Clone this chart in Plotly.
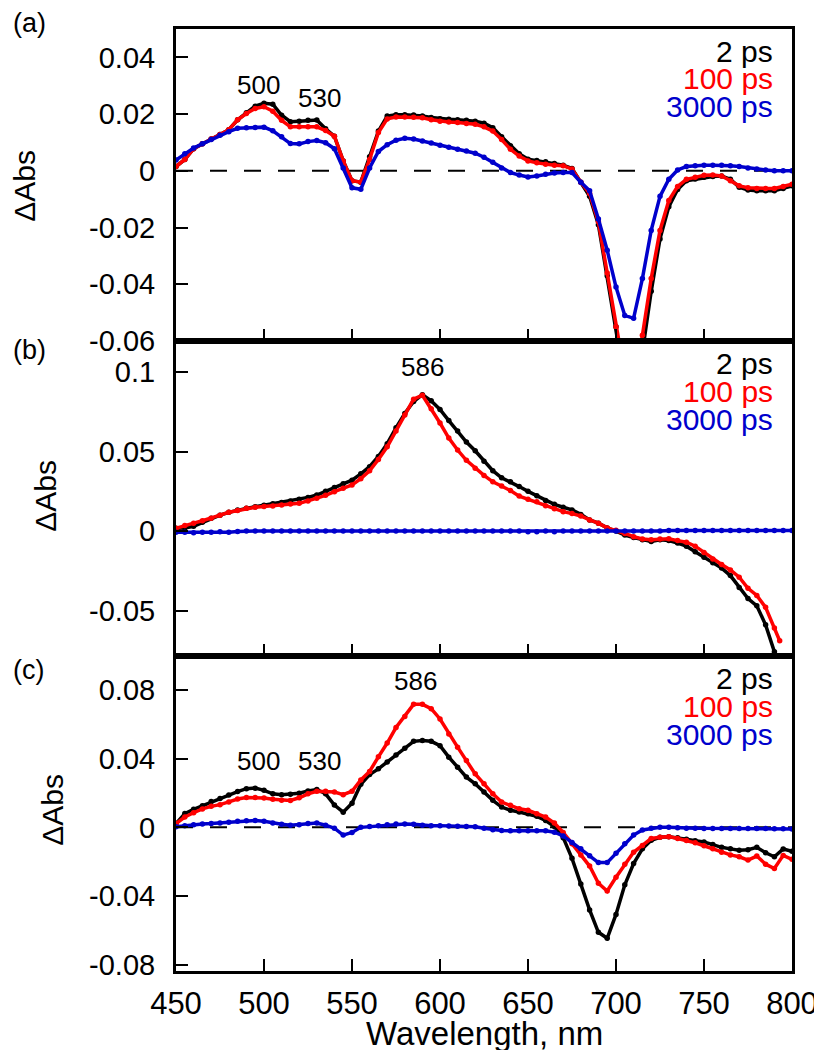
import plotly.graph_objects as go

# ---------------- data ----------------
wl = list(range(450, 805, 5))                 # 450..800 nm
wl_b = list(range(450, 795, 5)) + [793]       # panel (b) 2 ps / 100 ps end near 793 nm

series_names = ["2 ps", "100 ps", "3000 ps"]
series_colors = ["#000000", "#ff0000", "#0000cc"]

# Panel (a)
a_2ps = [0.0015, 0.004, 0.0078, 0.0095, 0.0112, 0.0128, 0.0145, 0.018, 0.0205, 0.0228,
         0.0238, 0.0235, 0.0196, 0.0173, 0.0175, 0.0178, 0.0179, 0.0148, 0.0122, 0.0035,
         -0.0035, -0.004, 0.005, 0.014, 0.0193, 0.0198, 0.0198, 0.0197, 0.0193, 0.0188,
         0.0184, 0.0182, 0.018, 0.0178, 0.0175, 0.0168, 0.0152, 0.012, 0.0088, 0.006,
         0.0041, 0.0036, 0.0032, 0.0026, 0.002, 0.0008, -0.004, -0.009, -0.019, -0.037,
         -0.055, -0.075, -0.08, -0.064, -0.0425, -0.024, -0.0127, -0.0066, -0.0035, -0.0029,
         -0.0023, -0.002, -0.0018, -0.003, -0.0058, -0.0068, -0.007, -0.007, -0.007, -0.0062,
         -0.0053]
a_100ps = [0.0015, 0.004, 0.0078, 0.0095, 0.0112, 0.0128, 0.0145, 0.018, 0.0202, 0.022,
           0.0226, 0.021, 0.0178, 0.0155, 0.0155, 0.0155, 0.0155, 0.0142, 0.0122, 0.0035,
           -0.0035, -0.004, 0.004, 0.0135, 0.0183, 0.019, 0.019, 0.0189, 0.0187, 0.018,
           0.0175, 0.0172, 0.017, 0.0167, 0.0164, 0.0155, 0.014, 0.011, 0.0076, 0.0052,
           0.0035, 0.0028, 0.0023, 0.002, 0.0018, 0.0006, -0.004, -0.008, -0.018, -0.036,
           -0.055, -0.072, -0.078, -0.058, -0.038, -0.021, -0.0105, -0.0055, -0.003, -0.0023,
           -0.0016, -0.0015, -0.0018, -0.0035, -0.0053, -0.006, -0.0062, -0.0062, -0.0062, -0.0055,
           -0.0047]
a_3000ps = [0.0038, 0.006, 0.008, 0.0095, 0.011, 0.0125, 0.0138, 0.015, 0.0152, 0.0153,
            0.0154, 0.0141, 0.012, 0.0096, 0.0095, 0.0103, 0.0107, 0.0099, 0.0078, 0.001,
            -0.006, -0.0065, 0.001, 0.0068, 0.0092, 0.0108, 0.0115, 0.0112, 0.0105, 0.0098,
            0.009, 0.0083, 0.0076, 0.007, 0.0062, 0.0048, 0.003, 0.001, -0.0006, -0.0015,
            -0.0022, -0.0018, -0.0012, -0.0008, -0.0006, -0.0006, -0.004, -0.007, -0.017, -0.028,
            -0.041, -0.051, -0.052, -0.038, -0.021, -0.009, -0.003, 0.0003, 0.0015, 0.0018,
            0.002, 0.002, 0.002, 0.0018, 0.0015, 0.001, 0.0006, 0.0003, 0.0, 0.0,
            0.0]

# Panel (b)
b_2ps = [0.0017, 0.002, 0.003, 0.0055, 0.008, 0.010, 0.0118, 0.0132, 0.0143, 0.0153,
         0.0162, 0.0172, 0.018, 0.019, 0.020, 0.0212, 0.0227, 0.025, 0.0274, 0.0298,
         0.032, 0.036, 0.0405, 0.047, 0.055, 0.065, 0.074, 0.0815, 0.0858, 0.082,
         0.0765, 0.0695, 0.063, 0.056, 0.0505, 0.044, 0.038, 0.0335, 0.031, 0.028,
         0.025, 0.0223, 0.0193, 0.0168, 0.015, 0.0133, 0.0105, 0.007, 0.005, 0.002,
         0.0, -0.0025, -0.004, -0.0055, -0.0065, -0.0055, -0.006, -0.0075, -0.0095, -0.013,
         -0.0165, -0.020, -0.0233, -0.028, -0.0355, -0.0425, -0.047, -0.059, -0.076, -0.082]
b_100ps = [0.0017, 0.0035, 0.005, 0.0065, 0.008, 0.010, 0.0118, 0.013, 0.0143, 0.015,
           0.0154, 0.0158, 0.0164, 0.017, 0.0175, 0.019, 0.0206, 0.0225, 0.0248, 0.027,
           0.029, 0.033, 0.038, 0.045, 0.053, 0.063, 0.073, 0.083, 0.0855, 0.077,
           0.068, 0.0585, 0.051, 0.0445, 0.0395, 0.035, 0.031, 0.0284, 0.0255, 0.022,
           0.020, 0.0185, 0.016, 0.014, 0.0122, 0.011, 0.0095, 0.007, 0.005, 0.002,
           0.0005, -0.0015, -0.0035, -0.005, -0.0055, -0.005, -0.0048, -0.006, -0.007, -0.0095,
           -0.0135, -0.0175, -0.021, -0.0245, -0.029, -0.036, -0.0405, -0.048, -0.061, -0.069]
b_3000ps = [-0.0008, -0.0008, -0.001, -0.0008, -0.0008, -0.0005, -0.0008, -0.0003, 0.0, 0.0,
            0.0, 0.0, 0.0, 0.0, 0.0, 0.0, 0.0, 0.0, 0.0, 0.0,
            0.0, 0.0, 0.0, 0.0, 0.0, 0.0, 0.0, 0.0, 0.0, 0.0,
            0.0, 0.0, 0.0, 0.0, 0.0, 0.0, 0.0, 0.0, 0.0, 0.0,
            -0.0005, -0.0005, 0.0, -0.0005, 0.0, 0.0, 0.0, 0.0, 0.0, 0.0,
            0.0, 0.0, 0.0, 0.0, 0.0, 0.0, 0.0003, 0.0003, 0.0003, 0.0003,
            0.0003, 0.0003, 0.0003, 0.0003, 0.0003, 0.0003, 0.0003, 0.0003, 0.0003, 0.0003,
            0.0003]

# Panel (c)
c_2ps = [0.0022, 0.008, 0.0105, 0.0126, 0.015, 0.0168, 0.0188, 0.0208, 0.0225, 0.0228,
         0.0215, 0.0195, 0.019, 0.0192, 0.0198, 0.0212, 0.022, 0.0195, 0.013, 0.0088,
         0.014, 0.025, 0.0307, 0.034, 0.038, 0.042, 0.046, 0.050, 0.0505, 0.050,
         0.0475, 0.0408, 0.035, 0.0292, 0.0253, 0.0205, 0.0157, 0.0118, 0.0099, 0.0089,
         0.0079, 0.0064, 0.004, 0.0005, -0.006, -0.018, -0.033, -0.048, -0.061, -0.0645,
         -0.0506, -0.0334, -0.021, -0.0125, -0.0075, -0.0058, -0.0055, -0.006, -0.0069, -0.0078,
         -0.0085, -0.010, -0.0116, -0.0125, -0.0133, -0.013, -0.0116, -0.0148, -0.0171, -0.0126,
         -0.0139]
c_100ps = [0.0022, 0.006, 0.0085, 0.0107, 0.0122, 0.0132, 0.0148, 0.0165, 0.0173, 0.0173,
           0.017, 0.0163, 0.0158, 0.0156, 0.0172, 0.0195, 0.021, 0.021, 0.0205, 0.019,
           0.021, 0.0275, 0.0325, 0.041, 0.049, 0.058, 0.0645, 0.0715, 0.0715, 0.069,
           0.063, 0.0543, 0.0466, 0.0388, 0.0311, 0.0253, 0.0195, 0.0147, 0.0128, 0.0108,
           0.0099, 0.0079, 0.006, 0.0025, -0.003, -0.0095, -0.016, -0.0225, -0.0325, -0.037,
           -0.029, -0.0215, -0.0145, -0.0105, -0.0065, -0.0058, -0.0054, -0.0065, -0.0076, -0.009,
           -0.0107, -0.0125, -0.0144, -0.016, -0.0171, -0.019, -0.0167, -0.0214, -0.0239, -0.0163,
           -0.0186]
c_3000ps = [0.0003, 0.001, 0.0015, 0.002, 0.0022, 0.0025, 0.003, 0.0035, 0.0038, 0.004,
            0.0035, 0.0025, 0.0018, 0.0012, 0.0015, 0.0022, 0.0025, 0.0012, -0.0005, -0.0045,
            -0.003, 0.0, 0.0005, 0.001, 0.0015, 0.002, 0.002, 0.0018, 0.0012, 0.001,
            0.001, 0.0008, 0.0006, 0.0005, 0.0003, -0.0005, -0.0014, -0.0018, -0.002, -0.002,
            -0.002, -0.002, -0.002, -0.0028, -0.005, -0.0088, -0.0125, -0.0165, -0.0205, -0.0205,
            -0.015, -0.0095, -0.0045, -0.0015, -0.0005, 0.0, 0.0, -0.0003, -0.0005, -0.0005,
            -0.0006, -0.0006, -0.0006, -0.0006, -0.0006, -0.0006, -0.0006, -0.0006, -0.0008, -0.0008,
            -0.001]

x_ticks = [450, 500, 550, 600, 650, 700, 750, 800]
x_ticktext = ["450", "500", "550", "600", "650", "700", "750", "800"]
ya_ticks = [0.04, 0.02, 0.0, -0.02, -0.04, -0.06]
ya_text = ["0.04", "0.02", "0", "-0.02", "-0.04", "-0.06"]
yb_ticks = [0.1, 0.05, 0.0, -0.05]
yb_text = ["0.1", "0.05", "0", "-0.05"]
yc_ticks = [0.08, 0.04, 0.0, -0.04, -0.08]
yc_text = ["0.08", "0.04", "0", "-0.04", "-0.08"]

peak_labels_a = [("500", 496.7, 0.821), ("530", 531.3, 0.779)]
peak_labels_b = [("586", 590.1, 0.917)]
peak_labels_c = [("500", 496.7, 0.666), ("530", 531.3, 0.666), ("586", 586.2, 0.921)]

# ---------------- figure ----------------
FONT = "Liberation Sans, Arial, Helvetica, sans-serif"
fig = go.Figure()

panels = [
    ("x", "y", [a_2ps, a_100ps, a_3000ps], [wl, wl, wl]),
    ("x2", "y2", [b_2ps, b_100ps, b_3000ps], [wl_b, wl_b, wl]),
    ("x3", "y3", [c_2ps, c_100ps, c_3000ps], [wl, wl, wl]),
]
for xa, ya, ys, xs in panels:
    for name, color, xv, yv in zip(series_names, series_colors, xs, ys):
        fig.add_trace(go.Scatter(
            x=xv, y=yv, xaxis=xa, yaxis=ya, name=name,
            mode="lines+markers",
            line=dict(color=color, width=3.5),
            marker=dict(color=color, size=5.5),
            showlegend=False, hoverinfo="skip"))

common_x = dict(range=[450, 800], showline=True, linewidth=3, linecolor="black",
                mirror=True, ticks="inside", ticklen=12, tickwidth=2, tickcolor="black",
                tickvals=x_ticks, ticktext=x_ticktext, showgrid=False, zeroline=False,
                domain=[0, 1])
common_y = dict(showline=True, linewidth=3, linecolor="black", mirror=True,
                ticks="inside", ticklen=12, tickwidth=2, tickcolor="black",
                showgrid=False, zeroline=False,
                tickfont=dict(family=FONT, size=29, color="black"),
                ticklabelstandoff=12)

d_ab = 0.6688
d_bc = 0.3344
# plot area at x 168-796, y 21-963
fig.update_layout(
    width=822, height=1050,
    margin=dict(l=168, r=26, t=21, b=87),
    paper_bgcolor="white", plot_bgcolor="white",
    font=dict(family=FONT, color="black"),
    xaxis=dict(common_x, anchor="y", showticklabels=False),
    xaxis2=dict(common_x, anchor="y2", showticklabels=False),
    xaxis3=dict(common_x, anchor="y3", showticklabels=True,
                tickfont=dict(family=FONT, size=31, color="black"),
                ticklabelstandoff=3),
    yaxis=dict(common_y, anchor="x", domain=[d_ab, 1], range=[-0.06, 0.05],
               tickvals=ya_ticks, ticktext=ya_text),
    yaxis2=dict(common_y, anchor="x2", domain=[d_bc, d_ab], range=[-0.0786, 0.1196],
                tickvals=yb_ticks, ticktext=yb_text),
    yaxis3=dict(common_y, anchor="x3", domain=[0, d_bc], range=[-0.0835, 0.0996],
                tickvals=yc_ticks, ticktext=yc_text),
    showlegend=False,
)

# dashed zero lines in (a) and (c)
for xr, yr in [("x", "y"), ("x3", "y3")]:
    fig.add_shape(type="line", xref=xr, yref=yr, x0=450, x1=800, y0=0, y1=0,
                  line=dict(color="black", width=2, dash="17px,17px"), layer="below")

ann = []
# legend-like text
for yr in ["y", "y2", "y3"]:
    for name, color, yy in zip(series_names, series_colors, [0.928, 0.84, 0.752]):
        ann.append(dict(text=name, x=789.5, xref=yr.replace("y", "x"), y=yy,
                        yref=f"{yr} domain", xanchor="right", yanchor="middle",
                        showarrow=False, borderpad=0,
                        font=dict(family=FONT, size=30, color=color)))
# peak labels
for labels, xr, yr in [(peak_labels_a, "x", "y"), (peak_labels_b, "x2", "y2"),
                       (peak_labels_c, "x3", "y3")]:
    for t, xv, yv in labels:
        ann.append(dict(text=t, x=xv, xref=xr, y=yv, yref=f"{yr} domain",
                        xanchor="center", yanchor="middle", showarrow=False,
                        font=dict(family=FONT, size=26, color="black")))
# panel letters
for t, yy in [("(a)", 1.0064), ("(b)", 0.659), ("(c)", 0.3195)]:
    ann.append(dict(text=t, x=-0.2675, xref="paper", y=yy, yref="paper",
                    xanchor="left", yanchor="middle", showarrow=False,
                    font=dict(family=FONT, size=27, color="black")))
# y titles
for xx, yy in [(-0.246, 0.834), (-0.212, 0.505), (-0.2, 0.171)]:
    ann.append(dict(text="ΔAbs", x=xx, xref="paper", y=yy, yref="paper",
                    xanchor="center", yanchor="middle", textangle=-90, showarrow=False,
                    borderpad=0, font=dict(family=FONT, size=30, color="black")))
# x title
ann.append(dict(text="Wavelength, nm", x=0.501, xref="paper", y=-0.0875, yref="paper",
                xanchor="center", yanchor="bottom", showarrow=False, borderpad=0,
                font=dict(family=FONT, size=33, color="black")))
fig.update_layout(annotations=ann)

fig.write_html("out.html")
